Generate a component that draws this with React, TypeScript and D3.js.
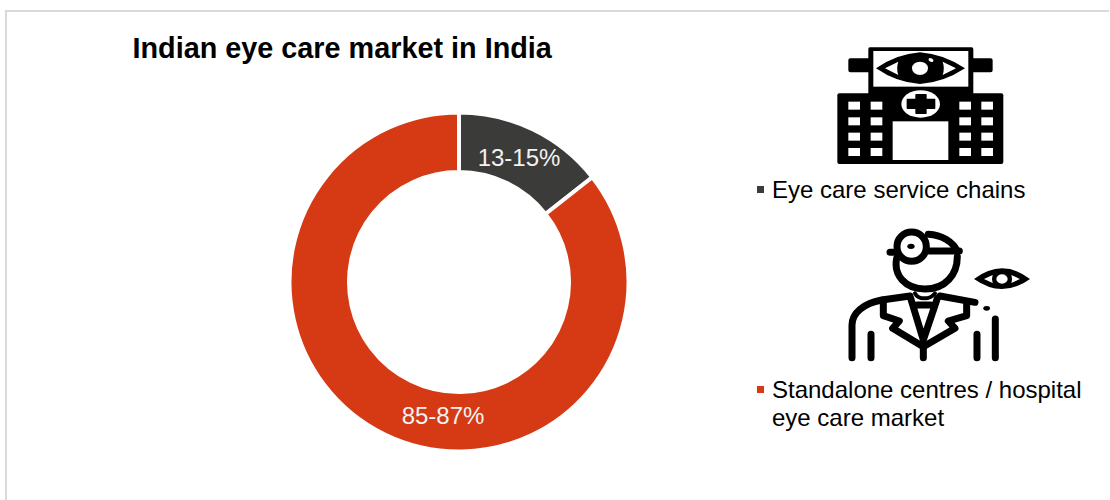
import React from "react";
import * as d3 from "d3";

const categories = ["Eye care service chains", "Standalone centres / hospital eye care market"];
const shares = [14.4, 85.6];
const valueLabels = ["13-15%", "85-87%"];
const sliceColors = ["#3b3b39", "#d63a14"];
const title = "Indian eye care market in India";
const FONT = "'Liberation Sans', Arial, sans-serif";

const cx = 459, cy = 282, outerR = 169.5, innerR = 110;

const windowCols = [55, 122, 388, 454];
const windowRows = [215, 262, 308, 354];

function HospitalIcon() {
  return (
    <g transform="translate(830,30) scale(0.3333)">
      <path d="M28 190H514Q520 190 520 196V396Q520 402 514 402H28Q22 402 22 396V196Q22 190 28 190Z" fill="#000" />
      <path d="M120 52H425Q430 52 430 58V85H482Q488 85 488 91V121Q488 127 482 127H430V195H115V127H61Q55 127 55 121V91Q55 85 61 85H115V58Q115 52 120 52Z" fill="#000" />
      <rect x={130} y={63} width={285} height={107} fill="#fff" />
      <path d="M138 115Q200 72 270 67Q340 72 405 115Q340 158 270 162Q200 158 138 115Z" fill="#000" />
      <path d="M165 115L205 95Q198 115 205 135Z" fill="#fff" />
      <path d="M378 115L338 95Q345 115 338 135Z" fill="#fff" />
      <ellipse cx={270} cy={115} rx={24} ry={20} fill="#fff" />
      <ellipse cx={303} cy={90} rx={8} ry={5} fill="#fff" transform="rotate(30 303 90)" />
      <ellipse cx={272} cy={222} rx={58} ry={41} fill="#fff" />
      <path d="M258 194H288V208H314V235H288V250H258V235H232V208H258Z" fill="#000" stroke="#000" strokeWidth={4} strokeLinejoin="round" />
      {windowCols.map((x) =>
        windowRows.map((y) => <rect key={`${x}-${y}`} x={x} y={y} width={35} height={24} fill="#fff" />)
      )}
      <rect x={188} y={274} width={167} height={116} fill="#fff" />
    </g>
  );
}

function DoctorIcon() {
  const s = { fill: "none", stroke: "#000", strokeWidth: 21, strokeLinecap: "round" as const, strokeLinejoin: "round" as const };
  return (
    <g transform="translate(840,225) scale(0.3333)">
      <path d="M170 100C160 150 195 192 255 192C315 192 352 150 352 95" {...s} />
      <path d="M150 82H172M268 78H358" {...s} />
      <path d="M265 28C305 30 340 50 352 80" {...s} />
      <circle cx={215} cy={65} r={44} {...s} />
      <ellipse cx={213} cy={64} rx={11} ry={8} fill="#000" />
      <path d="M36 398V300C36 265 70 235 125 225L210 213M300 213L405 232" {...s} />
      <path d="M225 205C235 225 270 225 285 205" {...s} strokeWidth={12} />
      <path d="M130 225V272L178 288L158 310L250 365L345 310L325 288L380 272V235" {...s} />
      <path d="M212 220L250 345L292 220M232 240H272" {...s} />
      <path d="M250 365V398" {...s} />
      <path d="M93 328V398M411 328V398M466 282V398" {...s} />
      <ellipse cx={440} cy={250} rx={10} ry={7} fill="#000" />
      <path d="M402 162Q445 130 486 130Q530 130 570 162Q530 192 486 192Q445 192 402 162Z" fill="#000" />
      <ellipse cx={486} cy={162} rx={17} ry={14} fill="#fff" />
      <path d="M432 162L458 150Q454 162 458 174Z" fill="#fff" />
      <path d="M540 162L514 150Q518 162 514 174Z" fill="#fff" />
    </g>
  );
}

export default function App() {
  const pie = d3.pie<number>().sort(null).value((d) => d);
  const arc = d3.arc<d3.PieArcDatum<number>>().innerRadius(innerR).outerRadius(outerR);
  const arcs = pie(shares);
  const labelPos: [number, number][] = [
    [519 - cx, 166 - cy],
    [443 - cx, 424 - cy],
  ];
  return (
    <svg
      width={1110}
      height={500}
      style={{ position: "absolute", left: 0, top: 0, background: "#fff", fontFamily: FONT }}
    >
      <path d="M6 500V11H1109" fill="none" stroke="#d9d9d9" strokeWidth={2} />
      <text x={132.5} y={58} fontSize={28.8} fontWeight={700} fill="#000">{title}</text>
      <g transform={`translate(${cx},${cy})`}>
        {arcs.map((a, i) => (
          <path key={categories[i]} d={arc(a) ?? ""} fill={sliceColors[i]} stroke="#fff" strokeWidth={4} />
        ))}
        {arcs.map((a, i) => (
          <text key={valueLabels[i]} x={labelPos[i][0]} y={labelPos[i][1]} textAnchor="middle" fontSize={24} fill="#f2f2f2">
            {valueLabels[i]}
          </text>
        ))}
      </g>
      <HospitalIcon />
      <DoctorIcon />
      <rect x={757} y={186} width={7} height={7} fill={sliceColors[0]} />
      <text x={772} y={198} fontSize={24} fill="#000">{categories[0]}</text>
      <rect x={757} y={386} width={7} height={7} fill={sliceColors[1]} />
      <text fontSize={24} fill="#000">
        <tspan x={772} y={398}>Standalone centres / hospital</tspan>
        <tspan x={772} y={426}>eye care market</tspan>
      </text>
    </svg>
  );
}
